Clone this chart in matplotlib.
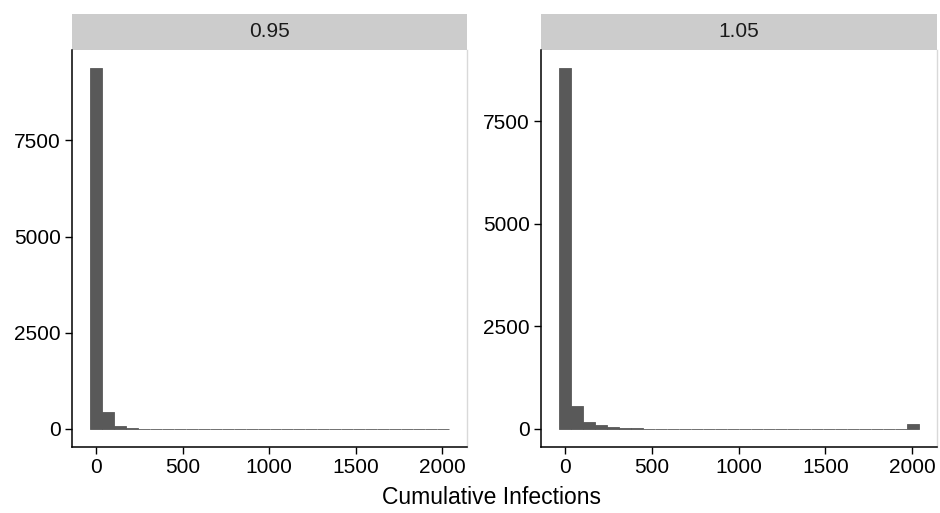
import numpy as np
import matplotlib
matplotlib.use("Agg")
import matplotlib.pyplot as plt
from matplotlib.patches import Rectangle

plt.rcParams['font.family'] = ['Liberation Sans', 'DejaVu Sans']

# ---- data ----
panels = ["0.95", "1.05"]
binwidth = 69.1
n_bins = 30
counts_095 = [9380, 441, 70, 30] + [0] * 26
counts_105 = [8800, 552, 163, 90, 58, 32, 30] + [0] * 22 + [110]
x_ticks = [0, 500, 1000, 1500, 2000]
y_ticks = [0, 2500, 5000, 7500]
x_label = "Cumulative Infections"

bin_centers = np.arange(n_bins) * binwidth

W, H = 940, 513
fig = plt.figure(figsize=(W / 100, H / 100), dpi=100)

bar_color = "#595959"
strip_color = "#CCCCCC"

ax_boxes = [(72, 467), (541, 937)]
ytop, ybot = 50, 447

for (x0, x1), label, counts in zip(ax_boxes, panels, [counts_095, counts_105]):
    ax = fig.add_axes([x0 / W, (H - ybot) / H, (x1 - x0) / W, (ybot - ytop) / H])
    ax.bar(bin_centers, counts, width=binwidth, color=bar_color,
           edgecolor=bar_color, linewidth=0.6)
    lo = bin_centers[0] - binwidth / 2
    hi = bin_centers[-1] + binwidth / 2
    pad = 0.05 * (hi - lo)
    ax.set_xlim(lo - pad, hi + pad)
    M = max(counts)
    ax.set_ylim(-0.05 * M, 1.05 * M)
    ax.set_xticks(x_ticks)
    ax.set_yticks(y_ticks)
    ax.set_xticklabels([str(t) for t in x_ticks])
    ax.set_yticklabels([str(t) for t in y_ticks])
    ax.tick_params(axis='both', labelsize=15, length=5, width=1.0,
                   color='black', labelcolor='black', pad=3)
    for s in ['left', 'bottom']:
        ax.spines[s].set_color('black')
        ax.spines[s].set_linewidth(1.1)
    ax.spines['top'].set_visible(False)
    ax.spines['right'].set_color('#D9D9D9')
    ax.spines['right'].set_linewidth(1.0)
    # strip
    sh = 36 / (ybot - ytop)
    ax.add_patch(Rectangle((0, 1), 1, sh, transform=ax.transAxes,
                           facecolor=strip_color, edgecolor='none',
                           clip_on=False))
    ax.text(0.5, 1 + sh / 2, label, transform=ax.transAxes, ha='center',
            va='center', fontsize=15, color='#1A1A1A')

fig.text(492 / W, 1 - 497 / H, x_label, ha='center', va='center',
         fontsize=16.5, color='black')

fig.savefig("out.png", dpi=100, facecolor='white')
